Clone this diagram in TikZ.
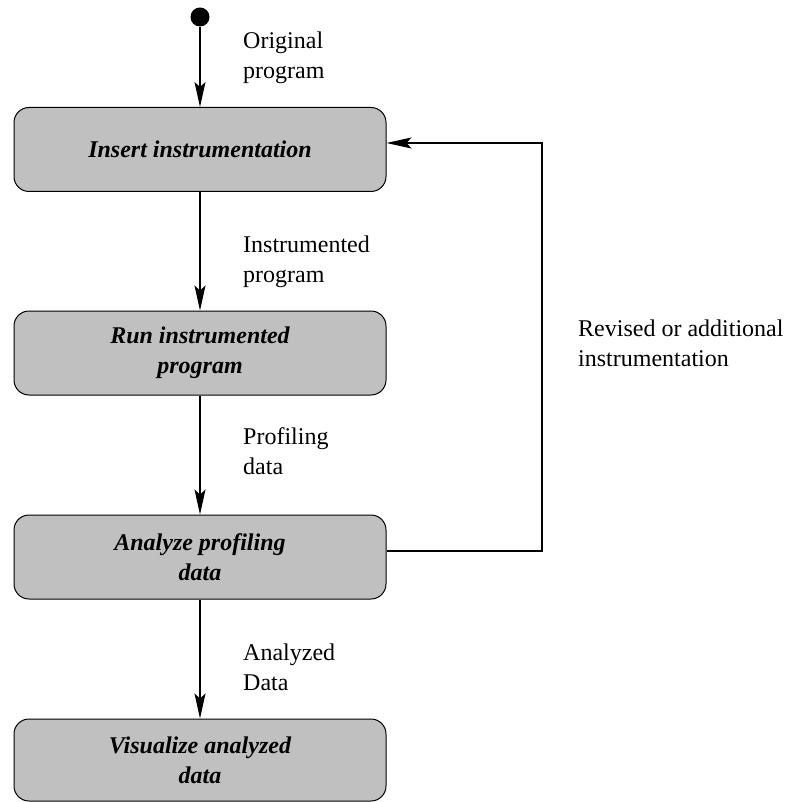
\documentclass[tikz,border=0pt]{standalone}
\usepackage{fontspec}
\setmainfont{Liberation Serif}
\usetikzlibrary{arrows.meta}
\tikzset{
  stage/.style={draw, rectangle, rounded corners=15pt, fill={rgb,255:red,192;green,192;blue,192},
    line width=1pt, minimum width=372pt, minimum height=84pt, align=center,
    font=\fontsize{24}{30}\selectfont\bfseries\itshape},
  flowlabel/.style={anchor=west, align=left, inner sep=0pt, font=\fontsize{24}{30}\selectfont},
  flow/.style={line width=1.2pt, -{Stealth[length=25pt,width=11pt,inset=5pt]}}
}
\begin{document}
\begin{tikzpicture}[x=1pt,y=-1pt]
    \useasboundingbox (0,0) rectangle (785,802);
    \node[circle, fill=black, inner sep=0pt, minimum size=19pt] (start) at (200,17) {};
    \node[stage] (insert) at (200,149.5) {Insert instrumentation};
    \node[stage] (run) at (200,353) {Run instrumented\\program};
    \node[stage] (analyze) at (200,557) {Analyze profiling\\data};
    \node[stage, minimum height=82pt] (visualize) at (200,760) {Visualize analyzed\\data};
    \coordinate (ret1) at (542,551);
    \coordinate (ret2) at (542,143);
    \path[flow]%
      (start) edge (insert)
      (insert) edge (run)
      (run) edge (analyze)
      (analyze) edge (visualize);
    \draw[flow] (analyze.east |- ret1) -- (ret1) -- (ret2) -- (insert.east |- ret2);
    \node[flowlabel] (l1) at (243,57.5) {Original\\program};
    \node[flowlabel] (l2) at (243,261.4) {Instrumented\\program};
    \node[flowlabel] (l3) at (243,451) {Profiling\\data};
    \node[flowlabel] (l4) at (243,666.8) {Analyzed\\Data};
    \node[flowlabel] (l5) at (578,343) {Revised or additional\\instrumentation};
\end{tikzpicture}
\end{document}
